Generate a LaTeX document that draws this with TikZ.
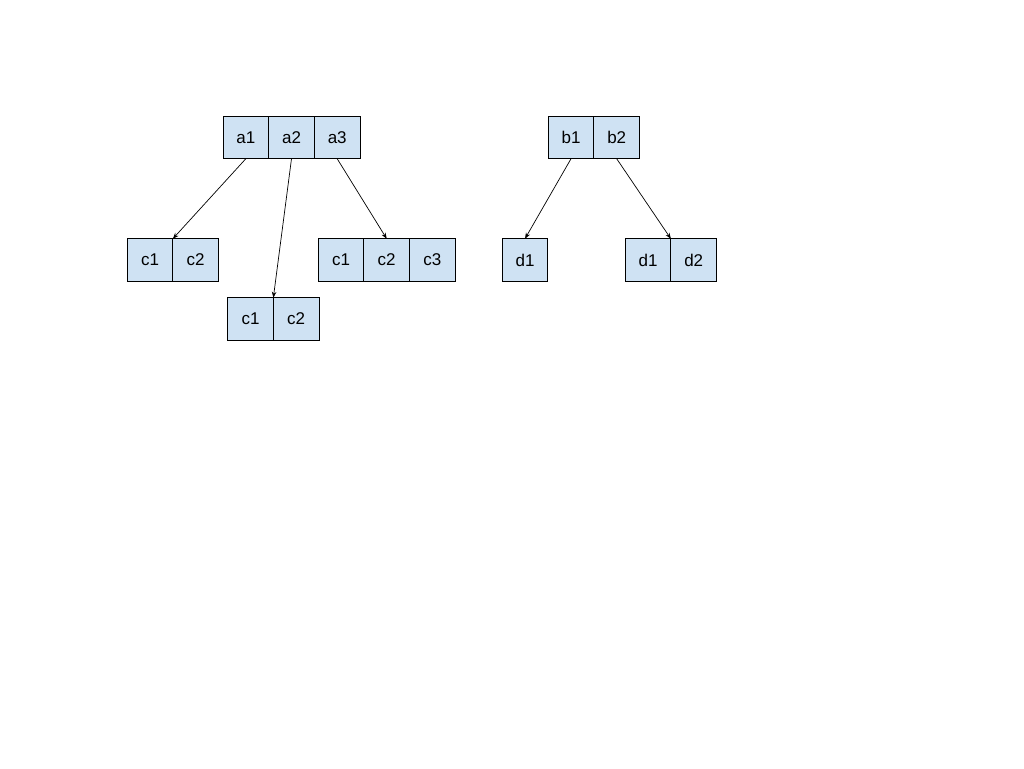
\documentclass[tikz,border=0pt]{standalone}
\usepackage{fontspec}
\setmainfont{Liberation Sans}
\usetikzlibrary{arrows.meta}
\definecolor{cellfill}{HTML}{CFE2F3}
\begin{document}
\begin{tikzpicture}[x=1pt,y=-1pt,
  cell/.style={draw=black,line width=0.9pt,fill=cellfill,minimum width=45.7pt,minimum height=42.5pt,inner sep=0pt,outer sep=0pt,font=\fontsize{17}{20}\selectfont},
  link/.style={draw=black,line width=0.7pt,-{Stealth[length=6pt,width=4.5pt]}}]
\useasboundingbox (0,0) rectangle (1024,768);
% top a
\node[cell] (a1) at (245.8,137.5) {a1};
\node[cell] (a2) at (291.5,137.5) {a2};
\node[cell] (a3) at (337.2,137.5) {a3};
% c group 1
\node[cell] (p1) at (150,260) {c1};
\node[cell] (p2) at (195.7,260) {c2};
% c group 2
\node[cell] (q1) at (250.5,319) {c1};
\node[cell] (q2) at (296.2,319) {c2};
% c group 3
\node[cell] (r1) at (341,260) {c1};
\node[cell] (r2) at (386.7,260) {c2};
\node[cell] (r3) at (432.4,260) {c3};
% top b
\node[cell] (b1) at (571,137.5) {b1};
\node[cell] (b2) at (616.7,137.5) {b2};
% d
\node[cell] (s1) at (525,260) {d1};
\node[cell] (t1) at (648,260) {d1};
\node[cell] (t2) at (693.7,260) {d2};
% links
\draw[link] (a1.south) -- (p1.north east);
\draw[link] (a2.south) -- (q1.north east);
\draw[link] (a3.south) -- (r2.north);
\draw[link] (b1.south) -- (s1.north);
\draw[link] (b2.south) -- (t1.north east);
\end{tikzpicture}
\end{document}
